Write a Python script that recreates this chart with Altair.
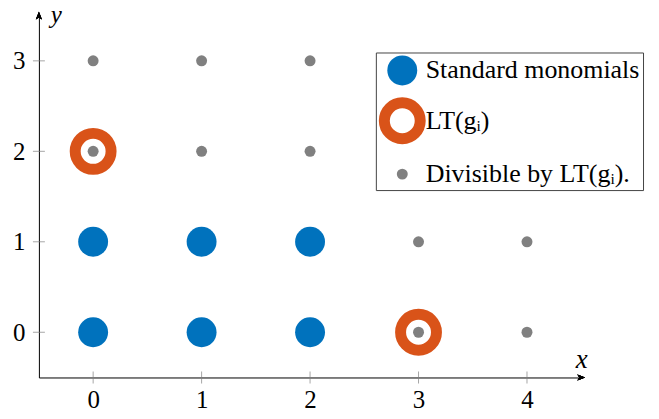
import altair as alt
import pandas as pd

KINDS = ["Standard monomials", "LT(gᵢ)", "Divisible by LT(gᵢ)."]
STD_X = [0, 1, 2, 0, 1, 2]
STD_Y = [0, 0, 0, 1, 1, 1]
LT_X = [0, 3]
LT_Y = [2, 0]
DIV_X = [0, 1, 2, 0, 1, 2, 3, 4, 3, 4]
DIV_Y = [3, 3, 3, 2, 2, 2, 1, 1, 0, 0]
X_TICKS = [0, 1, 2, 3, 4]
Y_TICKS = [0, 1, 2, 3]
X_DOMAIN = [-0.5, 4.5]
Y_DOMAIN = [-0.5, 3.5]

BLUE = "#0072BD"
ORANGE = "#D95319"
GRAY = "#808080"
FONT = "Liberation Serif"

main_df = pd.DataFrame(
    {"x": STD_X + LT_X, "y": STD_Y + LT_Y,
     "kind": [KINDS[0]] * len(STD_X) + [KINDS[1]] * len(LT_X)}
)
div_df = pd.DataFrame({"x": DIV_X, "y": DIV_Y, "kind": [KINDS[2]] * len(DIV_X)})
xt_df = pd.DataFrame({"x": X_TICKS})
yt_df = pd.DataFrame({"y": Y_TICKS})

xscale = alt.Scale(domain=X_DOMAIN, nice=False, zero=False)
yscale = alt.Scale(domain=Y_DOMAIN, nice=False, zero=False)

xaxis = alt.Axis(values=X_TICKS, ticks=False, tickSize=0, grid=False, domainColor="black",
                 domainWidth=1, labelFont=FONT, labelFontSize=25, labelColor="black",
                 labelPadding=10, title="x", titleFont=FONT, titleFontStyle="italic",
                 titleFontSize=27, titleFontWeight="normal", titleX=544, titleY=-10,
                 titleAlign="center", titleBaseline="alphabetic", format="d")
yaxis = alt.Axis(values=Y_TICKS, ticks=False, tickSize=0, grid=False, domainColor="black",
                 domainWidth=1, labelFont=FONT, labelFontSize=25, labelColor="black",
                 labelPadding=14, title="y", titleFont=FONT, titleFontStyle="italic",
                 titleFontSize=25, titleFontWeight="normal", titleX=17, titleY=7,
                 titleAngle=0, titleAlign="center", titleBaseline="alphabetic", format="d")

legend = alt.Legend(title=None, orient="none", legendX=338, legendY=37,
                    strokeColor="#444444", fillColor="white", padding=3,
                    labelFont=FONT, labelFontSize=26, labelColor="black",
                    labelLimit=400, labelOffset=0, rowPadding=-5, symbolType="circle")

def enc():
    return dict(
        x=alt.X("x:Q", scale=xscale, axis=xaxis),
        y=alt.Y("y:Q", scale=yscale, axis=yaxis),
        fill=alt.Fill("kind:N", scale=alt.Scale(domain=KINDS, range=[BLUE, "white", GRAY]), legend=legend),
        stroke=alt.Stroke("kind:N", scale=alt.Scale(domain=KINDS, range=[BLUE, ORANGE, GRAY]), legend=legend),
        size=alt.Size("kind:N", scale=alt.Scale(type="ordinal", domain=KINDS, range=[900, 1296, 121]), legend=legend),
        strokeWidth=alt.StrokeWidth("kind:N", scale=alt.Scale(type="ordinal", domain=KINDS, range=[0, 11, 0]), legend=legend),
    )

main = alt.Chart(main_df).mark_point(filled=True, shape="circle", opacity=1).encode(**enc())
div = alt.Chart(div_df).mark_point(filled=True, shape="circle", opacity=1).encode(**enc())

xticks = alt.Chart(xt_df).mark_tick(orient="vertical", color=GRAY, thickness=1, size=12).encode(
    x=alt.X("x:Q", scale=xscale), y=alt.datum(Y_DOMAIN[0]))
yticks = alt.Chart(yt_df).mark_tick(orient="horizontal", color=GRAY, thickness=1, size=12).encode(
    y=alt.Y("y:Q", scale=yscale), x=alt.datum(X_DOMAIN[0]))

arrow_r = alt.Chart(xt_df).mark_point(
    shape="M -1 -0.8 L 1 0 L -1 0.8 L -0.5 0 Z", filled=True, color="black", opacity=1, size=60, clip=False
).encode(x=alt.datum(X_DOMAIN[1]), y=alt.datum(Y_DOMAIN[0]))
arrow_u = alt.Chart(yt_df).mark_point(
    shape="M -0.8 1 L 0 -1 L 0.8 1 L 0 0.5 Z", filled=True, color="black", opacity=1, size=60, clip=False
).encode(x=alt.datum(X_DOMAIN[0]), y=alt.datum(Y_DOMAIN[1]))

chart = alt.layer(xticks, yticks, main, div, arrow_r, arrow_u).properties(
    width=544, height=363,
    autosize=alt.AutoSizeParams(type="none"),
    padding={"left": 31, "top": 7, "right": 70, "bottom": 38},
).configure_view(stroke=None)

chart.save("out.html", embed_options={"renderer": "svg", "actions": False})
